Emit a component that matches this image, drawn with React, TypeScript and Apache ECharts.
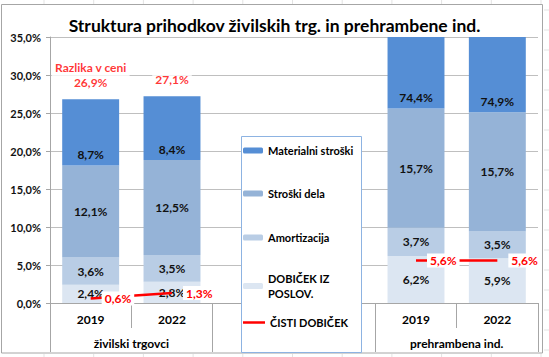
import React, { useEffect, useRef } from 'react';
import * as echarts from 'echarts';

const categories = ['2019', '2022', '', '', '2019', '2022'];
const groups = ['živilski trgovci', '', 'prehrambena ind.'];
const materialniStroski = [8.7, 8.4, null, null, 74.4, 74.9];
const stroskiDela = [12.1, 12.5, null, null, 15.7, 15.7];
const amortizacija = [3.6, 3.5, null, null, 3.7, 3.5];
const dobicekIzPoslov = [2.4, 2.8, null, null, 6.2, 5.9];
const cistiDobicek = [0.6, 1.3, null, null, 5.6, 5.6];
const razlikaVCeni = [26.9, 27.1, null, null, null, null];
const razlikaNaslov = ['Razlika v ceni', '', '', '', '', ''];
const yMin = 0;
const yMax = 35;
const yStep = 5;

const FONT = 'Lato';
const fmt = (v: number) => v.toFixed(1).replace('.', ',') + '%';

export default function App() {
  const ref = useRef<HTMLDivElement>(null);
  useEffect(() => {
    if (!ref.current) return;
    const chart = echarts.init(ref.current, null, { renderer: 'svg' });

    const topOfStack = razlikaVCeni.map((r, i) =>
      r == null
        ? null
        : (dobicekIzPoslov[i] as number) + (amortizacija[i] as number) + (stroskiDela[i] as number) + (materialniStroski[i] as number)
    );

    const barLabel = {
      show: true,
      position: 'inside',
      color: '#111',
      fontFamily: FONT,
      fontWeight: 'bold',
      fontSize: 12,
      formatter: (p: any) => (p.value == null ? '' : fmt(p.value)),
    };

    const excelLines: any[] = [];
    for (let k = 0; k < 12; k++) {
      const x = 44 + k * 49.7;
      excelLines.push({ type: 'line', z: 1, shape: { x1: x, y1: 0, x2: x, y2: 4 }, style: { stroke: '#E3E3E3', lineWidth: 1 } });
      excelLines.push({ type: 'line', z: 1, shape: { x1: x, y1: 354, x2: x, y2: 357 }, style: { stroke: '#E3E3E3', lineWidth: 1 } });
    }
    for (let k = 0; k < 18; k++) {
      const y = 10 + k * 20;
      excelLines.push({ type: 'line', z: 1, shape: { x1: 544, y1: y, x2: 549, y2: y }, style: { stroke: '#E3E3E3', lineWidth: 1 } });
    }

    chart.setOption({
      animation: false,
      backgroundColor: '#fff',
      textStyle: { fontFamily: FONT },
      title: {
        text: 'Struktura prihodkov živilskih trg. in prehrambene ind.',
        left: 'center',
        top: 11,
        textStyle: { fontFamily: FONT, fontSize: 17.5, fontWeight: 'bold', color: '#000' },
      },
      grid: { left: 50, right: 11, top: 37, bottom: 54 },
      legend: [
        { name: 'Materialni stroški', top: 143 },
        { name: 'Stroški dela', top: 186 },
        { name: 'Amortizacija', top: 230 },
        { name: 'DOBIČEK IZ POSLOV.', top: 271 },
        { name: 'ČISTI DOBIČEK', top: 315 },
      ].map((l) => ({
        data: [l.name === 'ČISTI DOBIČEK' ? { name: l.name, icon: 'rect', itemStyle: { color: '#FF0000' } } : l.name],
        top: l.top,
        left: 243,
        z: 30,
        orient: 'vertical',
        itemWidth: l.name === 'ČISTI DOBIČEK' ? 22 : 20,
        itemHeight: l.name === 'ČISTI DOBIČEK' ? 2.5 : 6,
        selectedMode: false,
        padding: 0,
        textStyle: { fontFamily: FONT, fontWeight: 'bold', fontSize: 11, color: '#000', lineHeight: 15 },
        formatter: (n: string) => (n === 'DOBIČEK IZ POSLOV.' ? 'DOBIČEK IZ\nPOSLOV.' : n),
      })),
      xAxis: [
        {
          type: 'category',
          data: categories,
          position: 'bottom',
          axisLine: { show: true, lineStyle: { color: '#A6A6A6', width: 1 } },
          axisTick: { show: true, interval: 0, length: 25, lineStyle: { color: '#A6A6A6' } },
          axisLabel: { interval: 0, margin: 10, color: '#000', fontFamily: FONT, fontWeight: 'bold', fontSize: 12 },
        },
        {
          type: 'category',
          data: groups,
          position: 'bottom',
          axisLine: { show: true, lineStyle: { color: '#A6A6A6', width: 1 } },
          axisTick: { show: true, interval: 0, length: 49, lineStyle: { color: '#A6A6A6' } },
          axisLabel: { interval: 0, margin: 34, color: '#000', fontFamily: FONT, fontWeight: 'bold', fontSize: 12 },
        },
      ],
      yAxis: {
        type: 'value',
        min: yMin,
        max: yMax,
        interval: yStep,
        axisLine: { show: true, lineStyle: { color: '#A6A6A6' } },
        axisTick: { show: true, length: 4, lineStyle: { color: '#A6A6A6' } },
        splitLine: { show: true, lineStyle: { color: '#BFBFBF', width: 1 } },
        axisLabel: { formatter: (v: number) => fmt(v), color: '#111', fontFamily: FONT, fontWeight: 'bold', fontSize: 11, margin: 9 },
      },
      series: [
        {
          name: 'DOBIČEK IZ POSLOV.',
          type: 'bar',
          stack: 'a',
          barWidth: '70%',
          data: dobicekIzPoslov,
          itemStyle: { color: '#DCE6F2' },
          label: barLabel,
        },
        {
          name: 'Amortizacija',
          type: 'bar',
          stack: 'a',
          data: amortizacija,
          itemStyle: { color: '#B9CDE5' },
          label: barLabel,
        },
        {
          name: 'Stroški dela',
          type: 'bar',
          stack: 'a',
          data: stroskiDela,
          itemStyle: { color: '#95B3D7' },
          label: barLabel,
        },
        {
          name: 'Materialni stroški',
          type: 'bar',
          stack: 'a',
          data: materialniStroski,
          itemStyle: { color: '#558ED5' },
          label: { ...barLabel, position: 'insideBottom', distance: 5 },
        },
        {
          name: 'ČISTI DOBIČEK',
          type: 'line',
          data: cistiDobicek,
          symbol: 'circle',
          symbolSize: 0,
          showSymbol: true,
          z: 5,
          lineStyle: { color: '#FF0000', width: 2.5 },
          itemStyle: { color: '#FF0000' },
          label: {
            show: true,
            position: 'right',
            distance: 11,
            padding: [1, 3],
            backgroundColor: '#fff',
            color: '#FF0000',
            fontFamily: FONT,
            fontWeight: 'bold',
            fontSize: 12,
            formatter: (p: any) => (p.value == null ? '' : fmt(p.value)),
          },
        },
        {
          name: 'razlika',
          type: 'scatter',
          data: topOfStack,
          symbolSize: 0,
          z: 6,
          silent: true,
          label: {
            show: true,
            position: 'top',
            distance: 8,
            padding: [1, 3],
            backgroundColor: '#fff',
            formatter: (p: any) => {
              const i = p.dataIndex;
              const r = razlikaVCeni[i];
              if (r == null) return '';
              const t = razlikaNaslov[i];
              return t ? `{t|${t}}\n{v|${fmt(r)}}` : `{v|${fmt(r)}}`;
            },
            rich: {
              t: { color: '#FF0000', fontFamily: FONT, fontWeight: 'bold', fontSize: 12, lineHeight: 15, align: 'center' },
              v: { color: '#FF0000', fontFamily: FONT, fontWeight: 'bold', fontSize: 12, lineHeight: 15, align: 'center' },
            },
          },
        },
      ],
      graphic: [
        ...excelLines,
        {
          type: 'rect',
          z: 15,
          shape: { x: 1.5, y: 4.5, width: 541, height: 348.5 },
          style: { fill: 'none', stroke: '#A6A6A6', lineWidth: 1 },
        },
        {
          type: 'rect',
          z: 15,
          shape: { x: 241.5, y: 136.5, width: 120, height: 216 },
          style: { fill: '#fff', stroke: '#8DB3E2', lineWidth: 1 },
        },
      ],
    });
    return () => chart.dispose();
  }, []);
  return <div ref={ref} style={{ position: 'fixed', left: 0, top: 0, width: 549, height: 357 }} />;
}
